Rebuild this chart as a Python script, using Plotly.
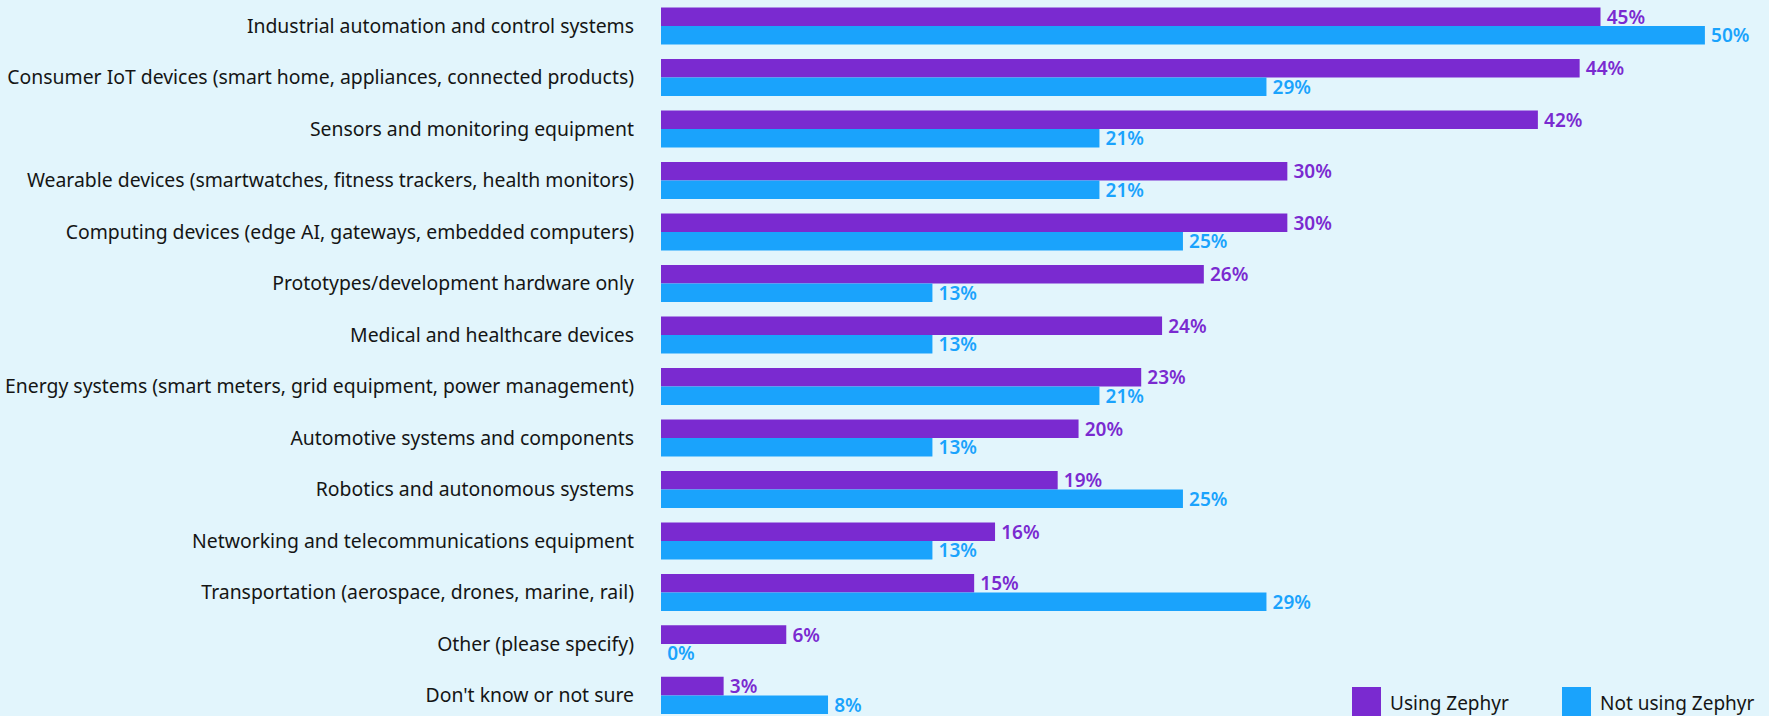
import plotly.graph_objects as go

categories = [
    "Industrial automation and control systems",
    "Consumer IoT devices (smart home, appliances, connected products)",
    "Sensors and monitoring equipment",
    "Wearable devices (smartwatches, fitness trackers, health monitors)",
    "Computing devices (edge AI, gateways, embedded computers)",
    "Prototypes/development hardware only",
    "Medical and healthcare devices",
    "Energy systems (smart meters, grid equipment, power management)",
    "Automotive systems and components",
    "Robotics and autonomous systems",
    "Networking and telecommunications equipment",
    "Transportation (aerospace, drones, marine, rail)",
    "Other (please specify)",
    "Don't know or not sure",
]
using_zephyr = [45, 44, 42, 30, 30, 26, 24, 23, 20, 19, 16, 15, 6, 3]
not_using_zephyr = [50, 29, 21, 21, 25, 13, 13, 21, 13, 25, 13, 29, 0, 8]
series_names = ["Using Zephyr", "Not using Zephyr"]

PURPLE = "#7a2ad0"
BLUE = "#1aa3fc"
BG = "#e2f5fc"
INK = "#151515"
FONT = "Noto Sans"
SIZE = 19.4

W, H = 1769, 716
LEFT = 661  # pixel position of the value axis origin

fig = go.Figure()
for name, vals, col in [(series_names[0], using_zephyr, PURPLE),
                        (series_names[1], not_using_zephyr, BLUE)]:
    fig.add_trace(go.Bar(
        y=categories, x=vals, name=name, orientation="h",
        marker=dict(color=col, line=dict(width=0)),
        text=[f"\u2009{v}%" for v in vals],
        textposition="outside",
        textfont=dict(family=FONT, size=19, color=col, weight=600),
        constraintext="none",
        cliponaxis=False,
        showlegend=False,
    ))

fig.update_layout(
    width=W, height=H,
    margin=dict(l=LEFT, r=0, t=0, b=0, pad=0),
    paper_bgcolor=BG, plot_bgcolor=BG,
    barmode="group", bargap=0.28, bargroupgap=0,
    font=dict(family=FONT, size=SIZE, color=INK),
    xaxis=dict(range=[0, 53.07], visible=False, fixedrange=True),
    yaxis=dict(
        type="category", range=[13.40, -0.505],
        showgrid=False, zeroline=False, showline=False,
        ticks="", ticklabelstandoff=26,
        tickfont=dict(family=FONT, size=SIZE, color=INK),
    ),
)

# Legend swatches and labels, placed in paper coordinates
def px_x(p):
    return (p - LEFT) / (W - LEFT)

def px_y(p):
    return (H - p) / H

legend_items = [(series_names[0], PURPLE, 1352), (series_names[1], BLUE, 1562)]
for label, col, x0 in legend_items:
    fig.add_shape(type="rect", xref="paper", yref="paper",
                  x0=px_x(x0), x1=px_x(x0 + 29), y0=px_y(716), y1=px_y(687),
                  fillcolor=col, line=dict(width=0), layer="above")
    fig.add_annotation(xref="paper", yref="paper", x=px_x(x0 + 36), y=px_y(703),
                       text=label, showarrow=False, xanchor="left", yanchor="middle",
                       font=dict(family=FONT, size=19, color=INK))

fig.write_html("out.html")
